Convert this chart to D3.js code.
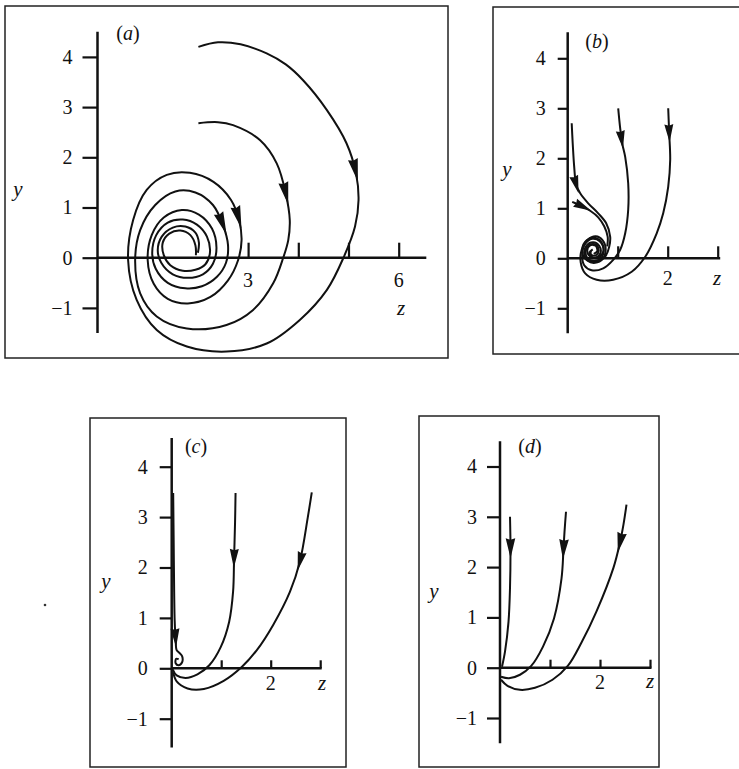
<!DOCTYPE html>
<html>
<head>
<meta charset="utf-8">
<script src="https://cdn.jsdelivr.net/npm/d3@7"></script>
<style>
body{margin:0;background:#fff;}
svg{display:block;}
</style>
</head>
<body>
<script>
/*
phase portraits (a)-(d), trajectories in the (z,y) plane
points
*/

var svgwidth = 739, svgheight = 769;
var serif = "'Liberation Serif','DejaVu Serif',serif";

// tick values
var yTicks = [-1, 0, 1, 2, 3, 4];
var xTicksA = [3, 4, 5, 6], xLabelsA = [3, 6];
var xTicksB = [1, 2, 3], xLabelsB = [2];
var xTicksC = [1, 2, 3], xLabelsC = [2];
var xTicksD = [1, 2, 3], xLabelsD = [2];

// (a) two spirals
var trajA1 = [[2.01,4.20],[2.40,4.29],[2.85,4.25],[3.37,4.07],[3.75,3.85],[4.10,3.53],[4.57,2.94],[4.96,2.28],[5.15,1.68],[5.20,1.15],[5.13,0.62],[4.90,0.00],[4.57,-0.64],[4.03,-1.24],[3.37,-1.71],[2.57,-1.87],[1.78,-1.77],[1.18,-1.44],[0.78,-0.84],[0.61,-0.05],[0.71,0.75],[0.98,1.35],[1.38,1.65],[1.84,1.69],[2.31,1.51],[2.66,1.15],[2.82,0.75],[2.87,0.35],[2.80,-0.05],[2.60,-0.45],[2.25,-0.78],[1.80,-0.91],[1.40,-0.82],[1.12,-0.52],[1.00,-0.05],[1.08,0.45],[1.32,0.80],[1.68,0.95],[2.02,0.86],[2.28,0.58],[2.37,0.20],[2.30,-0.12],[2.10,-0.33],[1.80,-0.40],[1.50,-0.33],[1.27,-0.10],[1.20,0.15],[1.28,0.42],[1.50,0.60],[1.75,0.62],[1.95,0.50],[2.02,0.30],[2.00,0.10]];
var trajA2 = [[2.01,2.68],[2.40,2.70],[2.70,2.64],[3.24,2.34],[3.57,1.88],[3.75,1.28],[3.83,0.75],[3.80,0.35],[3.70,0.00],[3.50,-0.51],[3.10,-1.04],[2.57,-1.34],[1.78,-1.41],[1.18,-1.17],[0.85,-0.71],[0.75,-0.05],[0.85,0.55],[1.15,1.05],[1.55,1.32],[1.95,1.30],[2.30,1.05],[2.50,0.65],[2.60,0.25],[2.56,-0.10],[2.38,-0.38],[2.08,-0.57],[1.75,-0.61],[1.40,-0.50],[1.16,-0.22],[1.09,0.10],[1.17,0.45],[1.40,0.70],[1.70,0.76],[1.98,0.66],[2.18,0.42],[2.24,0.10],[2.15,-0.13],[1.95,-0.24],[1.70,-0.26],[1.45,-0.15],[1.32,0.05],[1.30,0.30],[1.43,0.48],[1.65,0.54],[1.85,0.45],[1.95,0.25],[1.96,0.05]];
// arrows: [trajectory index, z, y]
var arrowsA = [[0,5.13,1.74],[0,2.82,0.80],[1,3.75,1.28],[1,2.50,0.68]];

// (b)
var trajB0 = [[0.09,1.13],[0.20,1.08],[0.31,1.03],[0.45,0.95],[0.61,0.82],[0.73,0.64],[0.80,0.43],[0.79,0.24]];
var trajB1 = [[0.08,2.70],[0.10,2.30],[0.13,1.83],[0.17,1.47],[0.25,1.30],[0.41,1.10],[0.61,0.90],[0.77,0.70],[0.85,0.43],[0.83,0.23],[0.76,0.05],[0.63,-0.05],[0.47,-0.07],[0.34,0.00],[0.29,0.18],[0.38,0.36],[0.54,0.41],[0.68,0.31],[0.71,0.13],[0.61,0.02],[0.46,0.03],[0.39,0.15],[0.45,0.26],[0.56,0.25],[0.59,0.14],[0.52,0.09]];
var trajB2 = [[1.01,3.00],[1.05,2.60],[1.09,2.30],[1.15,2.03],[1.21,1.50],[1.21,0.97],[1.15,0.50],[1.05,0.17],[0.91,-0.03],[0.71,-0.20],[0.48,-0.24],[0.33,-0.14],[0.29,0.05],[0.34,0.27],[0.49,0.39],[0.64,0.34],[0.72,0.16],[0.66,0.00],[0.52,-0.05],[0.40,0.00],[0.36,0.15],[0.44,0.27],[0.57,0.27],[0.62,0.15],[0.56,0.06],[0.47,0.07],[0.46,0.15]];
var trajB3 = [[2.01,3.00],[2.03,2.50],[2.05,1.97],[2.01,1.43],[1.91,0.90],[1.78,0.50],[1.55,0.03],[1.28,-0.27],[0.91,-0.43],[0.58,-0.43],[0.35,-0.30],[0.26,-0.08],[0.28,0.17],[0.40,0.37],[0.56,0.44],[0.70,0.36],[0.76,0.17],[0.70,-0.01],[0.55,-0.09],[0.40,-0.05],[0.33,0.10],[0.38,0.26],[0.51,0.32],[0.63,0.25],[0.66,0.12],[0.59,0.03],[0.48,0.03],[0.44,0.12],[0.50,0.18]];
var arrowsB = [[1,0.17,1.47],[0,0.31,1.03],[2,1.08,2.37],[3,2.03,2.50]];

// (c)
var trajC1 = [[0.03,3.48],[0.04,2.50],[0.05,1.50],[0.06,0.95],[0.08,0.56],[0.10,0.36],[0.15,0.31],[0.21,0.24],[0.21,0.12],[0.14,0.06],[0.08,0.10],[0.09,0.19],[0.14,0.18]];
var trajC2 = [[1.29,3.48],[1.28,2.90],[1.26,2.18],[1.24,1.52],[1.16,0.92],[0.99,0.42],[0.76,0.06],[0.52,-0.12],[0.28,-0.19],[0.10,-0.14],[0.02,-0.02]];
var trajC3 = [[2.83,3.49],[2.75,3.00],[2.59,2.12],[2.39,1.52],[2.05,0.86],[1.72,0.36],[1.42,0.03],[1.05,-0.25],[0.65,-0.41],[0.32,-0.40],[0.10,-0.26],[0.03,-0.08]];
var arrowsC = [[0,0.08,0.60],[1,1.26,2.18],[2,2.59,2.12]];

// (d)
var trajD1 = [[0.20,3.00],[0.21,2.37],[0.20,1.58],[0.17,0.91],[0.10,0.32],[0.04,0.02]];
var trajD2 = [[1.32,3.10],[1.29,2.70],[1.27,2.36],[1.23,1.77],[1.08,0.98],[0.86,0.42],[0.62,0.03],[0.40,-0.14],[0.18,-0.21],[0.02,-0.18]];
var trajD3 = [[2.53,3.24],[2.47,2.85],[2.40,2.49],[2.27,1.99],[1.93,1.12],[1.63,0.50],[1.36,0.04],[1.05,-0.24],[0.70,-0.40],[0.40,-0.44],[0.15,-0.36],[0.02,-0.24]];
var arrowsD = [[0,0.21,2.37],[1,1.27,2.36],[2,2.40,2.49]];

// layout of each panel (pixels)
var panels = [
	{tag:"a", box:[5,6,448,358], x0:97.5, y0:257.7, kx:50.2, ky:50.2, yExt:[-1.5,4.5], xEnd:6.55,
	 ytl:15, ypad:10, xtl:15, xlOff:29, zAt:[401,315], yAt:[18,196], tagAt:[128,40],
	 xTicks:xTicksA, xLabels:xLabelsA, traj:[trajA1,trajA2], arrows:arrowsA, aLen:23, aW:5},
	{tag:"b", box:[493,7,745,354], x0:567.7, y0:258.3, kx:50, ky:50, yExt:[-1.5,4.52], xEnd:3.05,
	 ytl:10, ypad:12, xtl:12, xlOff:27, zAt:[717,285], yAt:[507,176], tagAt:[597,48],
	 xTicks:xTicksB, xLabels:xLabelsB, traj:[trajB0,trajB1,trajB2,trajB3], arrows:arrowsB, aLen:18, aW:4.5},
	{tag:"c", box:[90,418,346,767], x0:171.7, y0:668.3, kx:49.5, ky:50.4, yExt:[-1.57,4.57], xEnd:3.03,
	 ytl:12, ypad:12, xtl:8, xlOff:22, zAt:[322,690], yAt:[106,588], tagAt:[196,453],
	 xTicks:xTicksC, xLabels:xLabelsC, traj:[trajC1,trajC2,trajC3], arrows:arrowsC, aLen:19, aW:4.5},
	{tag:"d", box:[419,416,659,767], x0:500, y0:667.7, kx:50, ky:50.3, yExt:[-1.5,4.5], xEnd:3.03,
	 ytl:13, ypad:10, xtl:8, xlOff:21, zAt:[650,688], yAt:[434,598], tagAt:[530,453],
	 xTicks:xTicksD, xLabels:xLabelsD, traj:[trajD1,trajD2,trajD3], arrows:arrowsD, aLen:20, aW:4.8}
];

var svg = d3.select("body").append("svg")
	.attr("width", svgwidth)
	.attr("height", svgheight);

svg.append("rect")
	.attr("width", svgwidth)
	.attr("height", svgheight)
	.attr("fill", "#fff");

function fmt(d){ return d < 0 ? "\u2212" + Math.abs(d) : String(d); }

function drawPanel(p)
{
	var g = svg.append("g").attr("id", "panel_" + p.tag);

	g.append("rect")
		.attr("x", p.box[0]).attr("y", p.box[1])
		.attr("width", p.box[2] - p.box[0])
		.attr("height", p.box[3] - p.box[1])
		.attr("fill", "none")
		.attr("stroke", "#222")
		.attr("stroke-width", 1.5);

	var x = d3.scaleLinear().domain([0, 1]).range([p.x0, p.x0 + p.kx]);
	var y = d3.scaleLinear().domain([0, 1]).range([p.y0, p.y0 - p.ky]);

	// y axis, ticks to the left
	var gy = g.append("g")
		.attr("transform", "translate(" + p.x0 + ",0)")
		.call(d3.axisLeft(y).tickValues(yTicks).tickSize(p.ytl).tickPadding(p.ypad).tickFormat(fmt));
	gy.select(".domain").remove();
	gy.selectAll("line").attr("stroke", "#111").attr("stroke-width", 2.2);
	gy.selectAll("text")
		.attr("font-family", serif)
		.attr("font-size", 20)
		.attr("fill", "#111");

	// x axis, ticks pointing up, labels below
	var gx = g.append("g")
		.attr("transform", "translate(0," + p.y0 + ")")
		.call(d3.axisTop(x).tickValues(p.xTicks).tickSize(p.xtl).tickFormat(""));
	gx.select(".domain").remove();
	gx.selectAll("line").attr("stroke", "#111").attr("stroke-width", 2.2);

	g.append("line")
		.attr("x1", p.x0).attr("x2", p.x0)
		.attr("y1", y(p.yExt[1])).attr("y2", y(p.yExt[0]))
		.attr("stroke", "#111").attr("stroke-width", 2.5);
	g.append("line")
		.attr("x1", p.x0).attr("x2", x(p.xEnd))
		.attr("y1", p.y0).attr("y2", p.y0)
		.attr("stroke", "#111").attr("stroke-width", 2.5);

	g.selectAll(".xlab").data(p.xLabels).join("text")
		.attr("class", "xlab")
		.attr("x", function(d){ return x(d); })
		.attr("y", p.y0 + p.xlOff)
		.attr("text-anchor", "middle")
		.attr("font-family", serif)
		.attr("font-size", 20)
		.attr("fill", "#111")
		.text(fmt);

	// axis names
	g.append("text")
		.attr("x", p.zAt[0]).attr("y", p.zAt[1])
		.attr("text-anchor", "middle")
		.attr("font-family", serif).attr("font-style", "italic")
		.attr("font-size", 21).attr("fill", "#111")
		.text("z");
	g.append("text")
		.attr("x", p.yAt[0]).attr("y", p.yAt[1])
		.attr("text-anchor", "middle")
		.attr("font-family", serif).attr("font-style", "italic")
		.attr("font-size", 21).attr("fill", "#111")
		.text("y");

	var t = g.append("text")
		.attr("x", p.tagAt[0]).attr("y", p.tagAt[1])
		.attr("text-anchor", "middle")
		.attr("font-family", serif)
		.attr("font-size", 20).attr("fill", "#111");
	t.append("tspan").text("(");
	t.append("tspan").attr("font-style", "italic").text(p.tag);
	t.append("tspan").text(")");

	// trajectories
	var line = d3.line()
		.x(function(d){ return x(d[0]); })
		.y(function(d){ return y(d[1]); })
		.curve(d3.curveCatmullRom.alpha(0.5));

	var paths = g.selectAll(".traj").data(p.traj).join("path")
		.attr("class", "traj")
		.attr("d", line)
		.attr("fill", "none")
		.attr("stroke", "#111")
		.attr("stroke-width", 2)
		.attr("stroke-linejoin", "round");

	// arrowheads oriented along the path
	var nodes = paths.nodes();
	p.arrows.forEach(function(a){
		var node = nodes[a[0]];
		var len = node.getTotalLength();
		var px = x(a[1]), py = y(a[2]);
		var best = 0, bd = Infinity;
		for (var l = 0; l <= len; l += 0.5)
		{
			var q = node.getPointAtLength(l);
			var dd = (q.x - px) * (q.x - px) + (q.y - py) * (q.y - py);
			if (dd < bd) { bd = dd; best = l; }
		}
		var c = node.getPointAtLength(best);
		var q0 = node.getPointAtLength(Math.max(0, best - 5));
		var q1 = node.getPointAtLength(Math.min(len, best + 5));
		var ang = Math.atan2(q1.y - q0.y, q1.x - q0.x) * 180 / Math.PI;
		var h = p.aLen / 2;
		g.append("path")
			.attr("d", "M" + h + ",0L" + (-h) + "," + (-p.aW) + "L" + (-h * 0.85) + ",0L" + (-h) + "," + p.aW + "Z")
			.attr("transform", "translate(" + c.x + "," + c.y + ") rotate(" + ang + ")")
			.attr("fill", "#111");
	});
}

for (var i = 0; i < panels.length; i++)
{
	drawPanel(panels[i]);
}

// stray speck in the scan
svg.append("circle").attr("cx", 45).attr("cy", 605).attr("r", 1.3).attr("fill", "#333");
</script>
</body>
</html>
